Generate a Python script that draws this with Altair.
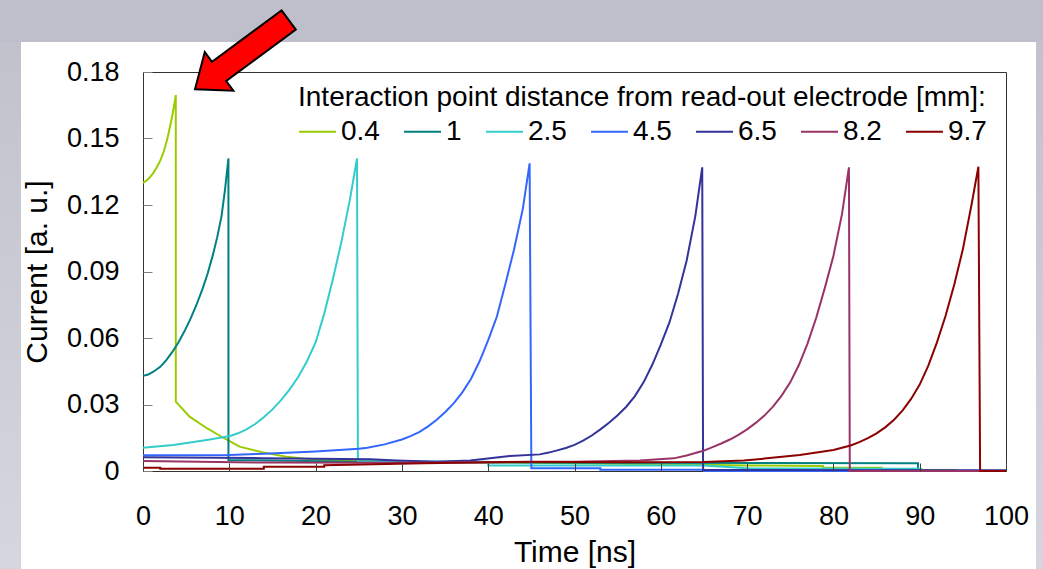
import altair as alt
import pandas as pd

# Induced current traces for interaction points at several distances
# from the read-out electrode. Time in ns, current in arbitrary units.
distances = ["0.4", "1", "2.5", "4.5", "6.5", "8.2", "9.7"]
colors = ["#99CC00", "#008080", "#33CCCC", "#3366FF", "#333399", "#993366", "#8B0000"]

t_04 = [0, 0.4, 0.8, 1.2, 1.6, 2.0, 2.4, 2.8, 3.2, 3.5, 3.8, 3.8, 5.4, 7.4, 9.3, 11.2, 13.9,
        16.6, 18.6, 22, 30, 45, 60, 70, 78.8, 78.8, 85.6, 85.6, 90.2, 90.2, 94, 94, 100]
i_04 = [0.1300, 0.1310, 0.1325, 0.1345, 0.1370, 0.1400, 0.1440, 0.1495, 0.1565, 0.1625, 0.1696,
        0.0313, 0.0245, 0.0193, 0.015, 0.011, 0.0084, 0.0064, 0.0056, 0.0048, 0.0042, 0.0037,
        0.0031, 0.0025, 0.0023, 0.0015, 0.0015, 0.0009, 0.0009, 0.0005, 0.0005, 0, 0]

t_1 = [0, 0.6, 1.2, 2.0, 2.7, 3.4, 4.1, 4.8, 5.5, 6.2, 6.9, 7.5, 8.1, 8.6, 9.1, 9.5, 9.9, 9.9,
       25, 50, 89.8, 89.8, 100]
i_1 = [0.0429, 0.0435, 0.0448, 0.0470, 0.0500, 0.0537, 0.0580, 0.0630, 0.0686, 0.0750, 0.0822,
       0.0892, 0.0975, 0.1055, 0.1150, 0.1268, 0.1410, 0.005, 0.0042, 0.0037, 0.0035, 0, 0]

t_25 = [0, 3.5, 7.4, 10.1, 11, 12, 13, 14, 15, 16, 17, 18, 19, 20, 21, 22, 23, 24, 24.8, 24.9,
        40, 40, 65, 70, 90, 90, 100]
i_25 = [0.0105, 0.0117, 0.014, 0.0158, 0.0170, 0.0188, 0.0212, 0.0242, 0.0278, 0.0320, 0.0368,
        0.0425, 0.0495, 0.0580, 0.0710, 0.0865, 0.1035, 0.1230, 0.1410, 0.0045, 0.0042, 0.0025,
        0.0025, 0.0012, 0.001, 0, 0]

t_45 = [0, 10, 14, 20, 25, 26, 28, 30, 31, 32, 33, 34, 35, 36, 37, 38, 39, 40, 41, 42, 43, 44,
        44.8, 45.0, 53, 53, 65, 65, 100]
i_45 = [0.0071, 0.0072, 0.0078, 0.0088, 0.0100, 0.0105, 0.0120, 0.0142, 0.0157, 0.0175, 0.0200,
        0.0230, 0.0265, 0.0305, 0.0355, 0.0415, 0.0495, 0.0590, 0.0696, 0.0845, 0.1000, 0.1180,
        0.1388, 0.0012, 0.0012, 0.0006, 0.0006, 0, 0]

t_65 = [0, 14, 26.3, 29.4, 34, 37.9, 40.2, 42.5, 46, 47, 48, 49, 50, 51, 52, 53, 54, 55, 56, 57,
        58, 59, 60, 61, 62, 63, 64, 64.8, 64.9, 100]
i_65 = [0.0062, 0.0058, 0.0053, 0.0047, 0.0042, 0.0047, 0.0057, 0.0068, 0.0075, 0.0083, 0.0093,
        0.0104, 0.0118, 0.0137, 0.0160, 0.0188, 0.0218, 0.0252, 0.0290, 0.0338, 0.0400, 0.0478,
        0.0570, 0.0670, 0.0800, 0.0950, 0.1150, 0.1370, 0.0005, 0.0003]

t_82 = [0, 14, 30, 45, 50, 57.6, 61.5, 63, 64.5, 65, 66, 67, 68, 69, 70, 71, 72, 73, 74, 75, 76,
        77, 78, 79, 80, 81, 81.8, 81.9, 100]
i_82 = [0.0045, 0.0038, 0.0037, 0.0041, 0.0042, 0.0047, 0.0057, 0.007, 0.0087, 0.0092, 0.0108,
        0.0124, 0.0142, 0.0163, 0.0188, 0.0217, 0.0250, 0.0290, 0.0340, 0.0400, 0.0478, 0.0575,
        0.0690, 0.0825, 0.0970, 0.1160, 0.1370, 0, 0]

t_97 = [0, 2, 2, 14, 14, 21, 21, 32.5, 44.8, 55, 65, 69.6, 72.3, 76.1, 80, 82, 83, 84, 85, 86,
        87, 88, 89, 90, 91, 92, 93, 94, 95, 96, 96.8, 97.0, 100]
i_97 = [0.0015, 0.0015, 0.001, 0.001, 0.0019, 0.0019, 0.0026, 0.0035, 0.0042, 0.004, 0.0041,
        0.0047, 0.0057, 0.0072, 0.0095, 0.0115, 0.0130, 0.0148, 0.0170, 0.0197, 0.0230, 0.0272,
        0.0325, 0.0390, 0.0475, 0.0580, 0.0700, 0.0840, 0.1000, 0.1200, 0.1373, 0, 0]

x_ticks = [0, 10, 20, 30, 40, 50, 60, 70, 80, 90, 100]
y_ticks = [0, 0.03, 0.06, 0.09, 0.12, 0.15, 0.18]

series = [(t_04, i_04), (t_1, i_1), (t_25, i_25), (t_45, i_45),
          (t_65, i_65), (t_82, i_82), (t_97, i_97)]
rows = []
for name, (ts, cs) in zip(distances, series):
    for k, (t, c) in enumerate(zip(ts, cs)):
        rows.append({"distance": name, "t": t, "current": c, "idx": k})
df = pd.DataFrame(rows)

one = pd.DataFrame({"k": [0]})
W, H = 863, 399
FONT = "Liberation Sans"

# slide backdrop around the white chart panel
top_band = alt.Chart(one).mark_rect(color="#BFBFCB").encode(
    x=alt.value(-143), x2=alt.value(900), y=alt.value(-72), y2=alt.value(-30))
side_grad = alt.Gradient(
    gradient="linear", x1=0, x2=0, y1=0, y2=1,
    stops=[alt.GradientStop(color="#C2C2CD", offset=0),
           alt.GradientStop(color="#D6D6DF", offset=1)])
left_strip = alt.Chart(one).mark_rect(color=side_grad).encode(
    x=alt.value(-143), x2=alt.value(-122), y=alt.value(-30), y2=alt.value(498))
right_strip = alt.Chart(one).mark_rect(color=side_grad).encode(
    x=alt.value(893), x2=alt.value(900), y=alt.value(-30), y2=alt.value(498))

lines = alt.Chart(df).mark_line(strokeWidth=2).encode(
    x=alt.X("t:Q", scale=alt.Scale(domain=[0, 100], nice=False),
            axis=alt.Axis(values=x_ticks, title="Time [ns]", offset=-8, tickSize=8,
                          domain=False, grid=False, labelPadding=32, labelFontSize=27,
                          labelFlush=False,
                          titleFontSize=30, titleFontWeight="normal", titlePadding=8,
                          tickColor="#404040", labelColor="black", titleColor="black",
                          labelFont=FONT, titleFont=FONT, zindex=1)),
    y=alt.Y("current:Q", scale=alt.Scale(domain=[0, 0.18], nice=False),
            axis=alt.Axis(values=y_ticks, title="Current [a. u.]", offset=-9, tickSize=9,
                          domain=False, grid=False, labelPadding=24, labelFontSize=27,
                          labelFlush=False,
                          labelExpr="datum.value == 0 ? '0' : format(datum.value, '.2f')",
                          titleFontSize=30, titleFontWeight="normal", titlePadding=14,
                          tickColor="#808080", labelColor="black", titleColor="black",
                          labelFont=FONT, titleFont=FONT, zindex=1)),
    color=alt.Color("distance:N", scale=alt.Scale(domain=distances, range=colors),
                    legend=alt.Legend(
                        title="Interaction point distance from read-out electrode [mm]:",
                        orient="none", legendX=155, legendY=12, direction="horizontal",
                        columns=7, symbolType="stroke", symbolSize=1369,
                        symbolStrokeWidth=2, labelFontSize=28, titleFontSize=28,
                        titleFontWeight="normal", titleColor="black", labelColor="black",
                        labelFont=FONT, titleFont=FONT, titleLimit=1000, labelLimit=300,
                        labelOffset=4, columnPadding=20, titlePadding=0, padding=0,
                        zindex=1)),
    order="idx:Q",
)

# red pointer arrow marking the 0.4 mm trace
arrow_path = ("M -1 0.769 L -0.238 0.797 L -0.381 0.604 L 1 -0.416 "
              "L 0.718 -0.797 L -0.663 0.223 L -0.806 0.031 Z")
arrow = alt.Chart(one).mark_point(
    shape=arrow_path, size=10161, filled=True, fill="#FF0000", stroke="black",
    strokeWidth=2, opacity=1).encode(x=alt.value(102.4), y=alt.value(-21.45))

chart = alt.layer(top_band, left_strip, right_strip, lines, arrow).properties(
    width=W, height=H,
    autosize=alt.AutoSizeParams(type="none"),
    padding={"left": 143, "top": 72, "right": 37, "bottom": 98},
    background="white",
).configure(font=FONT).configure_view(stroke="#333333", strokeWidth=1)

chart.save("out.html", embed_options={"renderer": "svg", "actions": False})
